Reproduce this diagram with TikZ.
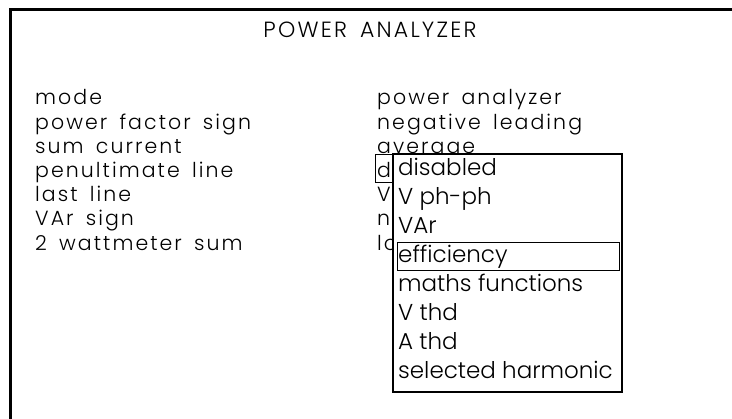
\documentclass[tikz,border=0pt]{standalone}
\usepackage{fontspec}
\setmainfont{Poppins}[UprightFont={* Light}]
\newfontfamily\widefont{Poppins}[UprightFont={* Light}, LetterSpace=10, WordSpace=1.6]
\usetikzlibrary{positioning}
\tikzset{%
  frame/.style={draw, line width=3pt},
  title/.style={anchor=base, inner sep=0pt, font=\widefont\fontsize{22}{22}\selectfont},
  item/.style={anchor=base west, inner sep=0pt, font=\widefont\fontsize{20.5}{20.5}\selectfont},
  listitem/.style={anchor=base west, inner sep=0pt, font=\fontsize{23}{23}\selectfont},
  menubox/.style={draw, fill=white, line width=1.2pt},
  cursor/.style={draw, line width=1pt}}

\begin{document}
\begin{tikzpicture}[x=1pt, y=-1pt]
    \useasboundingbox (0,0) rectangle (732,419);
    \draw [frame] (10,419) -- (10,10) -- (732,10);
    \node [title] (title) at (370,38) {POWER ANALYZER};
    % settings on the left, their values on the right
    \foreach \t [count=\i] in {mode, power factor sign, sum current,
      penultimate line, last line, VAr sign, 2 wattmeter sum} {
      \node [item] (key\i) at (35, 105 + 24.2 * \i - 24.2) {\t};
    }
    \foreach \t [count=\i] in {power analyzer, negative leading, average,
      d, V, n, lo} {
      \node [item] (val\i) at (377, 105 + 24.2 * \i - 24.2) {\t};
    }
    \draw [cursor] (375,155) rectangle (392,183);
    % drop-down list
    \draw [menubox] (393,154) rectangle (622,392);
    \foreach \t [count=\i] in {disabled, V ph-ph, VAr, efficiency,
      maths functions, V thd, A thd, selected harmonic} {
      \node [listitem] (opt\i) at (398, 176 + 29 * \i - 29) {\t};
    }
    \draw [cursor] (397,243) rectangle (619,271);
  \end{tikzpicture}
\end{document}
